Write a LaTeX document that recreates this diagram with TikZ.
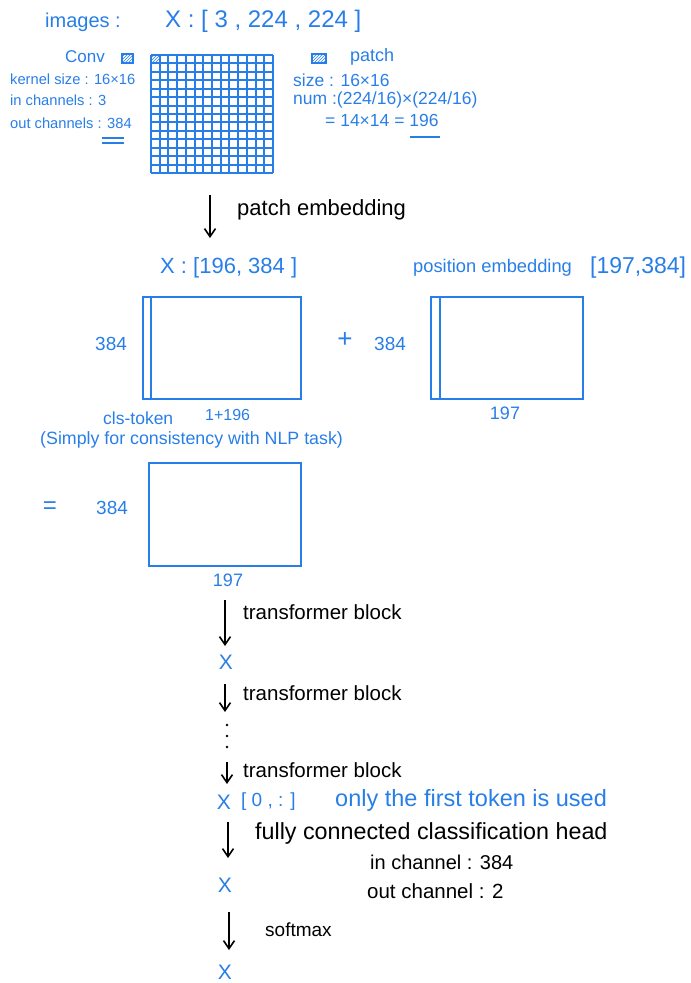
\documentclass[tikz,border=0pt]{standalone}
\usepackage{fontspec}
\setmainfont{Liberation Sans}
\usetikzlibrary{arrows.meta,patterns}
\definecolor{inkblue}{RGB}{40,126,232}
\begin{document}
\begin{tikzpicture}[x=1pt,y=-1pt,
  bt/.style={text=inkblue, inner sep=0pt, anchor=west},
  kt/.style={text=black, inner sep=0pt, anchor=west},
  fs/.style={font=\fontsize{#1}{#1}\selectfont},
  tensor/.style={draw=inkblue, line width=2.2pt, inner sep=0pt, anchor=north west},
  tensorline/.style={draw=inkblue, line width=2.2pt},
  flow/.style={draw=black, line width=1.6pt, -{Straight Barb[length=8pt,width=11pt]}},
  xvar/.style={text=inkblue, inner sep=0pt, font=\fontsize{21}{21}\selectfont},
  hatch/.style={draw=inkblue, line width=1.6pt, pattern=north east lines, pattern color=inkblue},
]
\useasboundingbox (0,0) rectangle (691,983);

% ---- input image ----
\node[bt, fs=20] (imglbl) at (45,22) {images :};
\node[bt, fs=24] (imgshape) at (165,21) {X : [ 3 , 224 , 224 ]};

% conv description
\node[bt, fs=17] (conv) at (65,57) {Conv};
\node[hatch, minimum width=11pt, minimum height=9pt, inner sep=0pt, anchor=north west] (convicon) at (121,53) {};
\node[bt, fs=14.7] (ks) at (10,79) {kernel size : 16×16};
\node[bt, fs=14.7] (inch) at (10,100) {in channels : 3};
\node[bt, fs=14.7] (outch) at (10,123) {out channels : 384};
\draw[inkblue, line width=1.8pt] (102,138) -- (124,138) (102,143) -- (124,143);

% patch grid 14 x 14
\fill[pattern=north east lines, pattern color=inkblue] (151,55) rectangle (159.7,63.4);
\foreach \i in {0,...,14}{
  \draw[inkblue, line width=2pt] ({151+\i*122/14},55) -- ({151+\i*122/14},173);
  \draw[inkblue, line width=2pt] (151,{55+\i*118/14}) -- (273,{55+\i*118/14});
}

% patch description
\node[hatch, minimum width=14pt, minimum height=9pt, inner sep=0pt, anchor=north west] (patchicon) at (311,53) {};
\node[bt, fs=18] (patch) at (350,57) {patch};
\node[bt, fs=17.5] (psize) at (293,80) {size : 16×16};
\node[bt, fs=17.5] (pnum) at (293,100) {num :(224/16)×(224/16)};
\node[bt, fs=17.5] (pres) at (325,120) {= 14×14 = 196};
\draw[inkblue, line width=1.8pt] (410,137) -- (440,137);

% ---- patch embedding ----
\coordinate (pe0) at (210,195);
\coordinate (pe1) at (210,238);
\draw[flow] (pe0) -- (pe1);
\node[kt, fs=22] (pelbl) at (237,210) {patch embedding};

\node[bt, fs=22] (xshape) at (160,268) {X : [196, 384 ]};
\node[bt, fs=18.3] (poslbl) at (413,268) {position embedding};
\node[bt, fs=23] (posshape) at (590,268) {[197,384]};

\node[tensor, minimum width=158pt, minimum height=102pt] (xin) at (142,296) {};
\draw[tensorline] ([xshift=9pt]xin.north west) -- ([xshift=9pt]xin.south west);
\node[bt, fs=19] (xh) at (95,344) {384};
\node[text=inkblue, fs=26, inner sep=0pt] (plus) at (345,340) {+};
\node[bt, fs=19] (ph) at (374,344) {384};
\node[tensor, minimum width=152pt, minimum height=102pt] (pos) at (430,296) {};
\draw[tensorline] ([xshift=10pt]pos.north west) -- ([xshift=10pt]pos.south west);
\node[text=inkblue, fs=18, inner sep=0pt] (pw) at (505,413) {197};

\node[bt, fs=17.5] (cls) at (103,418) {cls-token};
\node[bt, fs=16] (xw) at (205,415) {1+196};
\node[bt, fs=17.8] (note) at (40,440) {(Simply for consistency with NLP task)};

% ---- sum ----
\node[text=inkblue, fs=24, inner sep=0pt] (eq) at (50,508) {=};
\node[bt, fs=19] (sh) at (96,508) {384};
\node[tensor, minimum width=152pt, minimum height=103pt] (sum) at (148,462) {};
\node[text=inkblue, fs=18, inner sep=0pt] (sw) at (228,580) {197};

% ---- encoder blocks ----
\coordinate (t1a) at (225,600);
\coordinate (t1b) at (225,646);
\draw[flow] (t1a) -- (t1b);
\node[kt, fs=20.5] (t1) at (243,612) {transformer block};
\node[xvar] (x1) at (226,662) {X};

\coordinate (t2a) at (225,684);
\coordinate (t2b) at (225,712);
\draw[flow] (t2a) -- (t2b);
\node[kt, fs=20.5] (t2) at (243,693) {transformer block};
\foreach \y/\n in {725/d1,736/d2,747/d3}
  \fill[black] (227,\y) circle (1.3pt) coordinate (\n);

\coordinate (t3a) at (227,762);
\coordinate (t3b) at (227,784);
\draw[flow] (t3a) -- (t3b);
\node[kt, fs=20.5] (t3) at (243,770) {transformer block};

\node[xvar] (x2) at (224,802) {X};
\node[bt, fs=19] (x2idx) at (241,802) {[ 0 , : ]};
\node[bt, fs=23.5] (firsttok) at (335,800) {only the first token is used};

% ---- classification head ----
\coordinate (h0) at (228,822);
\coordinate (h1) at (228,858);
\draw[flow] (h0) -- (h1);
\node[kt, fs=23.3] (head) at (255,833) {fully connected classification head};
\node[kt, fs=20] (hin) at (370,862) {in channel : 384};
\node[kt, fs=20.5] (hout) at (367,891) {out channel :  2};
\node[xvar] (x3) at (225,885) {X};

\coordinate (s0) at (229,912);
\coordinate (s1) at (229,950);
\draw[flow] (s0) -- (s1);
\node[kt, fs=19] (smax) at (265,930) {softmax};
\node[xvar] (x4) at (225,972) {X};
\end{tikzpicture}
\end{document}
